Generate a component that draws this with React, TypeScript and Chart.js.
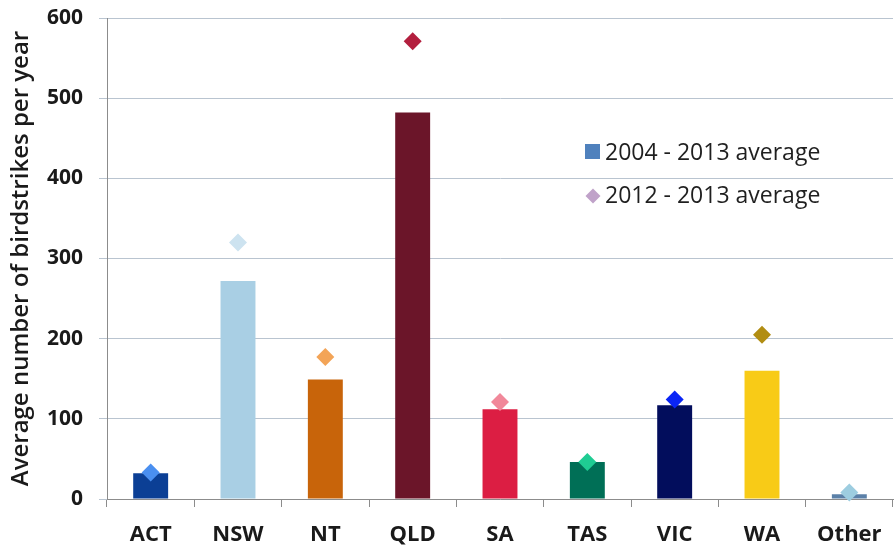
import React, { useEffect, useRef } from "react";
import { Chart, registerables } from "chart.js";

Chart.register(...registerables);

const categories = ["ACT", "NSW", "NT", "QLD", "SA", "TAS", "VIC", "WA", "Other"];
const avg2004to2013 = [32, 272, 149, 482, 112, 46, 117, 160, 6];
const avg2012to2013 = [33, 320, 177, 571, 121, 46, 124, 205, 8];
const barColors = ["#0b3f95", "#a9cfe4", "#c8640a", "#6b1529", "#dc1e43", "#006f56", "#020d5c", "#f8cb17", "#5b80a8"];
const diamondColors = ["#4a8ff0", "#cde3f0", "#f3a457", "#b31f3e", "#f1889a", "#1fcc93", "#0a25f5", "#b18d12", "#9dcde0"];
const yTicks = [0, 100, 200, 300, 400, 500, 600];
const legendLabels = ["2004 - 2013 average", "2012 - 2013 average"];
const legendColors = ["#4f81bd", "#c0a2c9"];

const FONT = "'Open Sans', 'Noto Sans', sans-serif";

export default function App() {
  const ref = useRef<HTMLCanvasElement | null>(null);

  useEffect(() => {
    document.body.style.margin = "0";
    const legendPlugin = {
      id: "insideLegend",
      afterDraw(chart: any) {
        const ctx = chart.ctx;
        ctx.save();
        ctx.font = `23px ${FONT}`;
        ctx.textBaseline = "middle";
        ctx.textAlign = "left";
        ctx.fillStyle = legendColors[0];
        ctx.fillRect(585, 144, 15, 15);
        ctx.fillStyle = "#1f1f1f";
        ctx.fillText(legendLabels[0], 605, 153);
        const cx = 593, cy = 196, r = 7.5;
        ctx.fillStyle = legendColors[1];
        ctx.beginPath();
        ctx.moveTo(cx, cy - r);
        ctx.lineTo(cx + r, cy);
        ctx.lineTo(cx, cy + r);
        ctx.lineTo(cx - r, cy);
        ctx.closePath();
        ctx.fill();
        ctx.fillStyle = "#1f1f1f";
        ctx.fillText(legendLabels[1], 605, 196);
        ctx.restore();
      },
    };

    const chart = new Chart(ref.current as HTMLCanvasElement, {
      type: "bar",
      data: {
        labels: categories,
        datasets: [
          {
            type: "line" as any,
            label: legendLabels[1],
            data: avg2012to2013,
            showLine: false,
            pointStyle: "rectRot",
            pointRadius: 9,
            pointBackgroundColor: diamondColors,
            pointBorderColor: diamondColors,
            pointBorderWidth: 0,
            clip: false,
            order: 0,
          } as any,
          {
            type: "bar",
            label: legendLabels[0],
            data: avg2004to2013,
            backgroundColor: barColors,
            borderWidth: 0,
            barPercentage: 0.4,
            categoryPercentage: 1,
            order: 1,
          },
        ],
      },
      options: {
        responsive: false,
        animation: false,
        layout: { autoPadding: false, padding: { top: 18, right: 1, left: 0, bottom: 0 } },
        plugins: {
          legend: { display: false },
          tooltip: { enabled: false },
        },
        scales: {
          x: {
            offset: true,
            grid: {
              offset: true,
              drawOnChartArea: false,
              drawTicks: true,
              tickLength: 8,
              color: "#8c8c8c",
            },
            border: { color: "#8c8c8c", width: 1 },
            ticks: {
              color: "#1a1a1a",
              padding: 15,
              font: { family: FONT, size: 22, weight: "bold" },
            },
            afterFit(scale: any) {
              scale.height = 49;
              scale.paddingLeft = 0;
              scale.paddingRight = 0;
            },
          },
          y: {
            min: 0,
            max: 600,
            afterBuildTicks(scale: any) {
              scale.ticks = yTicks.map((v) => ({ value: v }));
            },
            grid: {
              color: "#b9c4d0",
              tickLength: 8,
              drawTicks: true,
            },
            border: { color: "#8c8c8c", width: 1 },
            ticks: {
              color: "#1a1a1a",
              padding: 16,
              font: { family: FONT, size: 21, weight: "bold" },
            },
            title: {
              display: true,
              text: "Average number of birdstrikes per year",
              color: "#1a1a1a",
              font: { family: FONT, size: 24, weight: "600" },
              padding: { top: 7, bottom: 2 },
            },
            afterFit(scale: any) {
              scale.width = 107;
              scale.paddingTop = 0;
              scale.paddingBottom = 0;
            },
          },
        },
      },
      plugins: [legendPlugin],
    });
    return () => chart.destroy();
  }, []);

  return (
    <div style={{ width: 894, height: 548, background: "#ffffff" }}>
      <canvas ref={ref} width={894} height={548} style={{ display: "block" }} />
    </div>
  );
}
